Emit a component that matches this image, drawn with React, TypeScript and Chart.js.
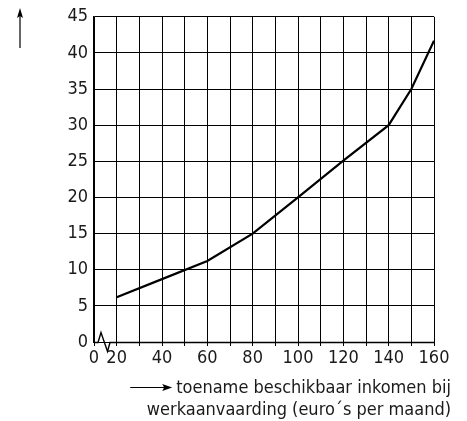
import React, { useEffect, useRef } from "react";
import { Chart, registerables } from "chart.js";

Chart.register(...registerables);

const xValues = [20, 40, 60, 80, 100, 120, 140, 150, 160];
const yValues = [6.2, 8.7, 11.2, 15, 20, 25.1, 30, 35, 41.7];
const xLabelled = [10, 20, 40, 60, 80, 100, 120, 140, 160];
const xTickText: Record<number, string> = { 10: "0", 20: "20", 40: "40", 60: "60", 80: "80", 100: "100", 120: "120", 140: "140", 160: "160" };
const titleLines = ["toename beschikbaar inkomen bij", "werkaanvaarding (euro´s per maand)"];

const FONT = "'Liberation Sans Narrow', 'DejaVu Sans Condensed', sans-serif";
const INK = "#1a1a1a";

function arrowHead(ctx: CanvasRenderingContext2D, x: number, y: number, dir: "up" | "right") {
  ctx.beginPath();
  if (dir === "up") {
    ctx.moveTo(x, y);
    ctx.lineTo(x - 3, y + 10);
    ctx.lineTo(x, y + 8);
    ctx.lineTo(x + 3, y + 10);
  } else {
    ctx.moveTo(x, y);
    ctx.lineTo(x - 10, y - 3.5);
    ctx.lineTo(x - 8, y);
    ctx.lineTo(x - 10, y + 3.5);
  }
  ctx.closePath();
  ctx.fill();
}

const decorPlugin = {
  id: "decor",
  afterDraw(chart: any) {
    const ctx: CanvasRenderingContext2D = chart.ctx;
    const xs = chart.scales.x;
    const area = chart.chartArea;
    const b = Math.round(area.bottom) + 0.5;
    const x0 = xs.getPixelForValue(10);
    const xr = xs.getPixelForValue(160);
    ctx.save();
    ctx.strokeStyle = "#000";
    ctx.fillStyle = "#000";
    ctx.lineWidth = 1.4;
    // axis with break
    ctx.beginPath();
    ctx.moveTo(x0, b);
    ctx.lineTo(x0 + 4, b);
    ctx.lineTo(x0 + 7, b - 10);
    ctx.lineTo(x0 + 13.5, b + 9);
    ctx.lineTo(x0 + 16, b);
    ctx.lineTo(xr, b);
    ctx.stroke();
    // y arrow
    ctx.lineWidth = 1.2;
    ctx.beginPath();
    ctx.moveTo(20, 48);
    ctx.lineTo(20, 14);
    ctx.stroke();
    arrowHead(ctx, 20, 8, "up");
    // x title
    ctx.fillStyle = INK;
    ctx.font = `18px ${FONT}`;
    ctx.textAlign = "right";
    ctx.textBaseline = "alphabetic";
    ctx.fillText(titleLines[0], 451, 393);
    ctx.fillText(titleLines[1], 451, 415);
    const w = ctx.measureText(titleLines[0]).width;
    const tip = 451 - w - 4;
    ctx.fillStyle = "#000";
    ctx.beginPath();
    ctx.moveTo(tip - 42, 387.5);
    ctx.lineTo(tip - 6, 387.5);
    ctx.stroke();
    arrowHead(ctx, tip, 387.5, "right");
    ctx.restore();
  },
};

export default function App() {
  const ref = useRef<HTMLCanvasElement | null>(null);
  useEffect(() => {
    if (!ref.current) return;
    const chart = new Chart(ref.current, {
      type: "line",
      data: {
        datasets: [
          {
            data: xValues.map((x, i) => ({ x, y: yValues[i] })),
            borderColor: "#000",
            borderWidth: 2.2,
            pointRadius: 0,
            tension: 0,
            fill: false,
          },
        ],
      },
      options: {
        animation: false,
        responsive: false,
        events: [],
        layout: { padding: { left: 0, right: 33, top: 15, bottom: 0 } },
        plugins: { legend: { display: false }, tooltip: { enabled: false }, title: { display: false } },
        scales: {
          x: {
            type: "linear",
            min: 10,
            max: 160,
            afterFit: (s: any) => {
              s.height = 79;
            },
            afterBuildTicks: (s: any) => {
              const t = [];
              for (let v = 10; v <= 160; v += 10) t.push({ value: v });
              s.ticks = t;
            },
            ticks: {
              autoSkip: false,
              maxRotation: 0,
              padding: 2,
              color: INK,
              font: { family: FONT, size: 18 },
              callback: (v: any) => (xLabelled.includes(Number(v)) ? xTickText[Number(v)] : ""),
            },
            grid: { color: "#000", lineWidth: 1, tickLength: 4, tickColor: "#000" },
            border: { display: false },
          },
          y: {
            type: "linear",
            min: 0,
            max: 45,
            afterFit: (s: any) => {
              s.width = 94;
            },
            ticks: {
              stepSize: 5,
              padding: 6,
              color: INK,
              font: { family: FONT, size: 18 },
            },
            grid: { color: "#000", lineWidth: 1, drawTicks: false },
            border: { display: true, color: "#000", width: 1.4 },
          },
        },
      },
      plugins: [decorPlugin],
    });
    return () => chart.destroy();
  }, []);
  return (
    <div style={{ position: "fixed", left: 0, top: 0, width: 467, height: 421, background: "#fff" }}>
      <canvas ref={ref} width={467} height={421} />
    </div>
  );
}
